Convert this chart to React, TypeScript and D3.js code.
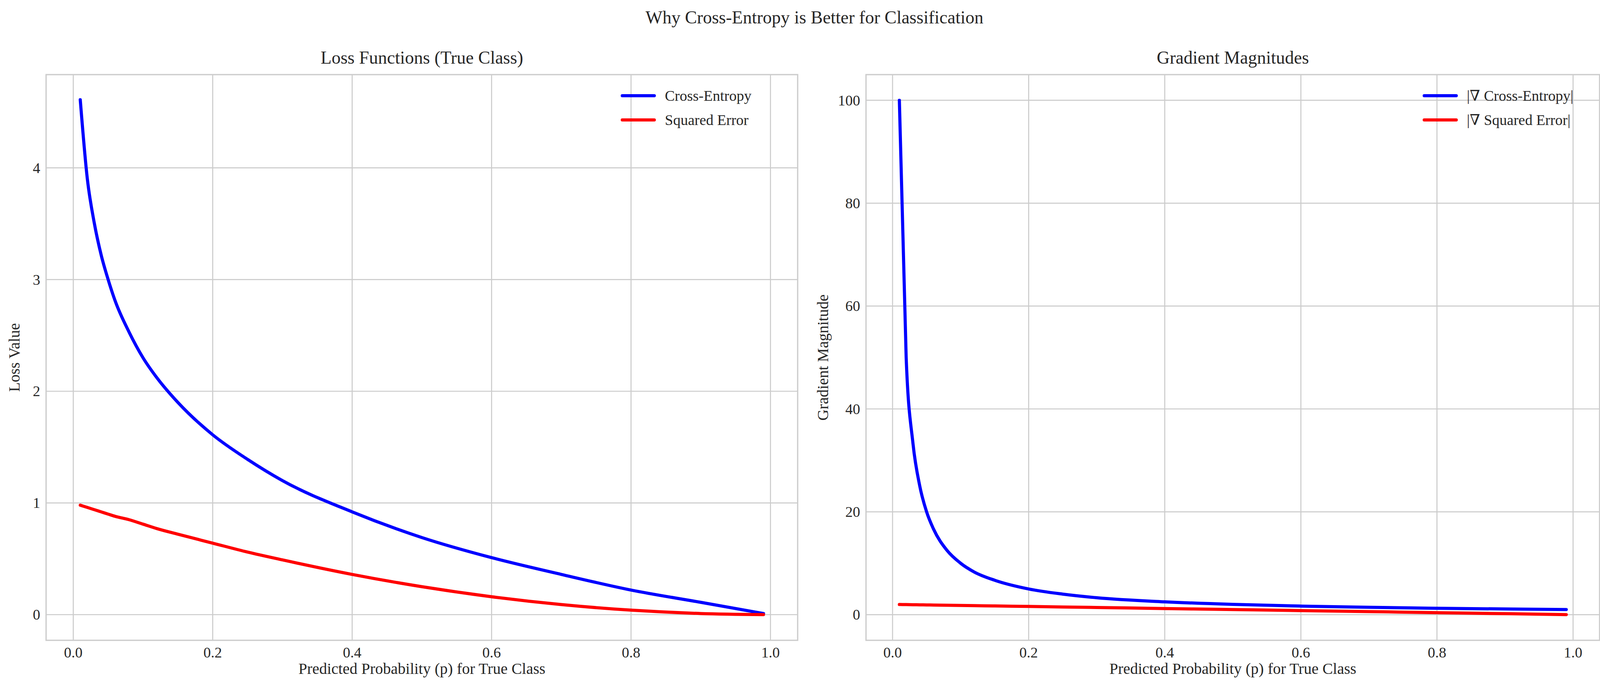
import React, { useEffect, useRef } from "react";
import * as d3 from "d3";

const probs = [0.01, 0.02, 0.03, 0.04, 0.05, 0.06, 0.08, 0.1, 0.12, 0.15, 0.2, 0.25, 0.3, 0.4, 0.5, 0.6, 0.7, 0.8, 0.9, 0.99];
const crossEntropy = [4.61, 3.91, 3.51, 3.22, 3.0, 2.81, 2.53, 2.3, 2.12, 1.9, 1.61, 1.39, 1.2, 0.92, 0.69, 0.51, 0.36, 0.22, 0.11, 0.01];
const squaredError = [0.98, 0.96, 0.94, 0.92, 0.9, 0.88, 0.85, 0.81, 0.77, 0.72, 0.64, 0.56, 0.49, 0.36, 0.25, 0.16, 0.09, 0.04, 0.01, 0.0001];
const gradCE = [100, 50, 33.3, 25, 20, 16.7, 12.5, 10, 8.3, 6.7, 5, 4, 3.3, 2.5, 2, 1.67, 1.43, 1.25, 1.11, 1.01];
const gradSE = [1.98, 1.96, 1.94, 1.92, 1.9, 1.88, 1.84, 1.8, 1.76, 1.7, 1.6, 1.5, 1.4, 1.2, 1.0, 0.8, 0.6, 0.4, 0.2, 0.02];
const xTicks = [0, 0.2, 0.4, 0.6, 0.8, 1.0];
const lossTicks = [0, 1, 2, 3, 4];
const gradTicks = [0, 20, 40, 60, 80, 100];

const W = 4170, H = 1779;
const FONT = "'Liberation Serif', 'DejaVu Serif', serif";
const INK = "#262626";
const GRID = "#cccccc";

type Panel = {
  left: number; right: number; title: string; ylabel: string; ylabelX: number;
  yDomain: [number, number]; yTicks: number[];
  series: { values: number[]; color: string; label: string }[];
};

const panels: Panel[] = [
  {
    left: 118, right: 2042, title: "Loss Functions (True Class)", ylabel: "Loss Value", ylabelX: 50,
    yDomain: [-0.23, 4.835], yTicks: lossTicks,
    series: [
      { values: crossEntropy, color: "#0000ff", label: "Cross-Entropy" },
      { values: squaredError, color: "#ff0000", label: "Squared Error" },
    ],
  },
  {
    left: 2217, right: 4095, title: "Gradient Magnitudes", ylabel: "Gradient Magnitude", ylabelX: 2120,
    yDomain: [-4.98, 104.99], yTicks: gradTicks,
    series: [
      { values: gradCE, color: "#0000ff", label: "|\u2207 Cross-Entropy|" },
      { values: gradSE, color: "#ff0000", label: "|\u2207 Squared Error|" },
    ],
  },
];

export default function App() {
  const ref = useRef<SVGSVGElement>(null);
  useEffect(() => {
    const svg = d3.select(ref.current);
    svg.selectAll("*").remove();
    svg.append("rect").attr("width", W).attr("height", H).attr("fill", "#fff");
    svg.append("text").attr("x", 2085).attr("y", 60).attr("text-anchor", "middle").attr("fill", INK)
      .attr("font-family", FONT).attr("font-size", 46).text("Why Cross-Entropy is Better for Classification");

    const top = 191, bottom = 1639;
    panels.forEach((p) => {
      const x = d3.scaleLinear().domain([-0.039, 1.039]).range([p.left, p.right]);
      const y = d3.scaleLinear().domain(p.yDomain).range([bottom, top]);
      const g = svg.append("g").attr("font-family", FONT).attr("fill", INK);
      xTicks.forEach((t) => {
        g.append("line").attr("x1", x(t)).attr("x2", x(t)).attr("y1", top).attr("y2", bottom).attr("stroke", GRID).attr("stroke-width", 2.7);
        g.append("text").attr("x", x(t)).attr("y", bottom + 44).attr("text-anchor", "middle").attr("font-size", 38).text(t.toFixed(1));
      });
      p.yTicks.forEach((t) => {
        g.append("line").attr("x1", p.left).attr("x2", p.right).attr("y1", y(t)).attr("y2", y(t)).attr("stroke", GRID).attr("stroke-width", 2.7);
        g.append("text").attr("x", p.left - 15).attr("y", y(t) + 13).attr("text-anchor", "end").attr("font-size", 38).text(String(t));
      });
      g.append("rect").attr("x", p.left).attr("y", top).attr("width", p.right - p.left).attr("height", bottom - top)
        .attr("fill", "none").attr("stroke", GRID).attr("stroke-width", 3.3);
      const line = d3.line<number>().x((_, i) => x(probs[i])).y((v) => y(v)).curve(d3.curveMonotoneX);
      p.series.forEach((s) => {
        g.append("path").datum(s.values).attr("d", line).attr("fill", "none").attr("stroke", s.color)
          .attr("stroke-width", 8).attr("stroke-linecap", "round").attr("stroke-linejoin", "round");
      });
      g.append("text").attr("x", (p.left + p.right) / 2).attr("y", 163).attr("text-anchor", "middle").attr("font-size", 46).text(p.title);
      g.append("text").attr("x", (p.left + p.right) / 2).attr("y", 1725).attr("text-anchor", "middle").attr("font-size", 40).text("Predicted Probability (p) for True Class");
      g.append("text").attr("transform", `translate(${p.ylabelX},${(top + bottom) / 2}) rotate(-90)`).attr("text-anchor", "middle").attr("font-size", 40).text(p.ylabel);
      p.series.forEach((s, i) => {
        const ly = 245 + i * 62;
        g.append("line").attr("x1", p.right - 449).attr("x2", p.right - 367).attr("y1", ly).attr("y2", ly)
          .attr("stroke", s.color).attr("stroke-width", 8).attr("stroke-linecap", "round");
        g.append("text").attr("x", p.right - 340).attr("y", ly + 13).attr("font-size", 38).text(s.label);
      });
    });
  }, []);
  return <svg ref={ref} width={W} height={H} style={{ display: "block", position: "absolute", left: 0, top: 0 }} />;
}
